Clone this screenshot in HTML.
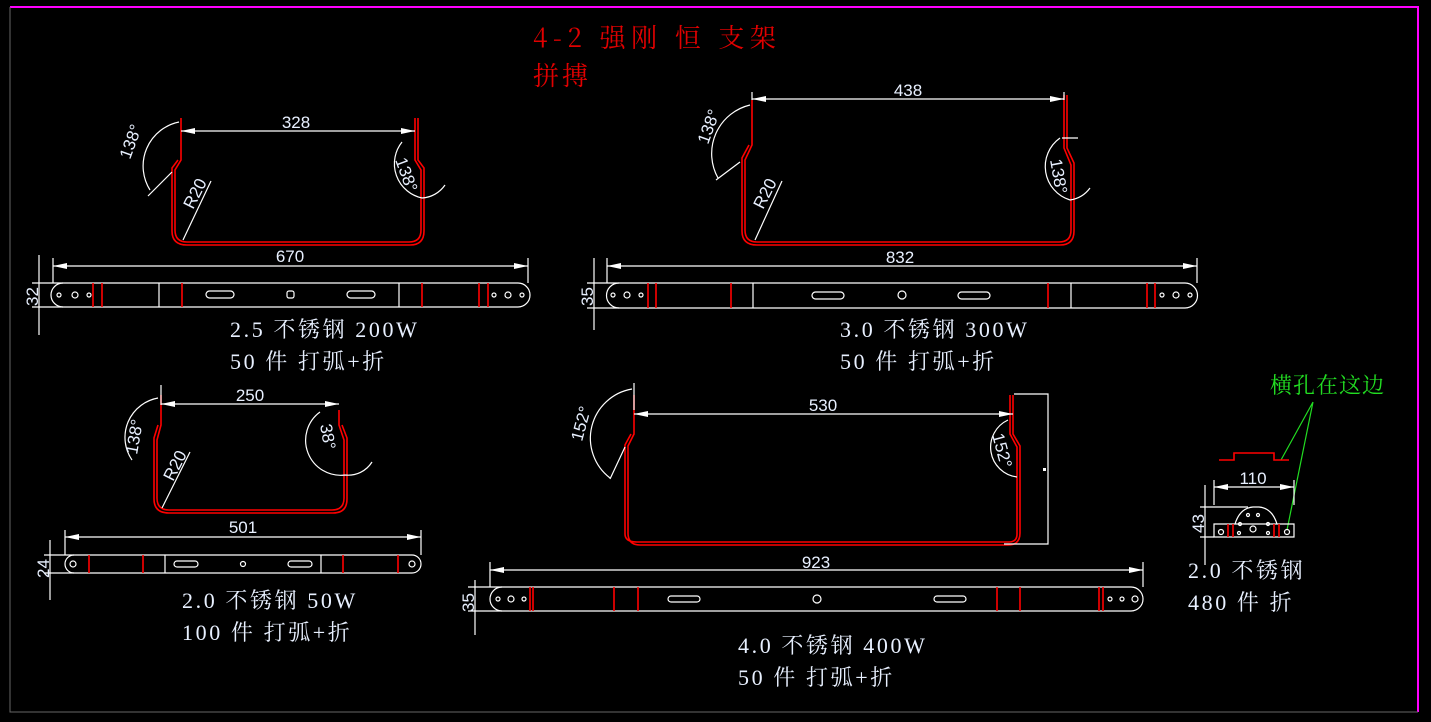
<!DOCTYPE html>
<html><head><meta charset="utf-8"><style>
html,body{margin:0;padding:0;background:#000;}
svg{display:block}
text{font-family:"Liberation Serif","Noto Serif CJK SC","Noto Sans CJK SC",serif;}
.t{fill:#e8f0ff;font-size:22px;letter-spacing:2.6px}
.d{fill:#e8f0ff;font-size:17px;font-family:"Liberation Sans Narrow","Liberation Sans",sans-serif}
.w{stroke:#fff;stroke-width:1.2;fill:none}
.r{stroke:#f00;stroke-width:1.6;fill:none}
</style></head><body>
<svg width="1431" height="722" viewBox="0 0 1431 722" xmlns="http://www.w3.org/2000/svg">
<rect width="1431" height="722" fill="#000"/>
<path d="M10 7 L1418 7 L1418 712" stroke="#ff00ff" stroke-width="2" fill="none"/>
<path d="M10 7 L10 712 L1418 712" stroke="#666" stroke-width="1" fill="none"/>

<text x="533" y="47" fill="#e00000" style="font-size:26px;letter-spacing:5.5px;font-family:'Noto Serif CJK SC',serif">4-2 强刚 恒 支架</text>
<text x="533" y="85" fill="#e00000" style="font-size:26px;letter-spacing:3px;font-family:'Noto Serif CJK SC',serif">拼搏</text>

<!-- Part 1 -->
<path class="r" d="M181 118 L181 160 L175 170 L175 230 Q175 242 187 242 L409 242 Q421 242 421 230 L421 170 L415 160 L415 118"/>
<path class="r" d="M178 160 L172 168 L172 231 Q172 245 187 245 L410 245 Q424 245 424 231 L424 168 L418 160 L418 118"/>
<path class="w" d="M181 131 L415 131"/>
<path d="M181 131 l14 -3 v6z M415 131 l-14 -3 v6z" fill="#fff"/>
<text class="d" x="296" y="128" text-anchor="middle">328</text>
<path class="w" d="M179 122 A45 45 0 0 0 150 190"/>
<path class="w" d="M172 172 L148 196"/>
<path class="w" d="M402 142 A35 35 0 0 0 422 198 M422 198 A30 30 0 0 0 445 185"/>
<text class="d" x="0" y="0" transform="translate(130,160) rotate(-70)">138°</text>
<text class="d" x="0" y="0" transform="translate(395,160) rotate(70)">138°</text>
<path class="w" d="M211 181 L183 240"/>
<text class="d" x="0" y="0" transform="translate(193,210) rotate(-63)">R20</text>
<path class="w" d="M53 266 L528 266 M53 258 L53 283 M528 258 L528 283"/>
<path d="M53 266 l14 -3 v6z M528 266 l-14 -3 v6z" fill="#fff"/>
<text class="d" x="290" y="262" text-anchor="middle">670</text>
<path class="w" d="M63 283 L518 283 A12 12 0 0 1 518 307 L63 307 A12 12 0 0 1 63 283z"/>
<path class="w" d="M32 283 L63 283 M32 307 L63 307 M39 255 L39 335"/>
<text class="d" x="0" y="0" transform="translate(38,306) rotate(-90)">32</text>
<g class="w"><circle cx="59" cy="295" r="2"/><circle cx="75" cy="295" r="3"/><circle cx="89" cy="295" r="2"/><circle cx="494" cy="295" r="2"/><circle cx="508" cy="295" r="3"/><circle cx="522" cy="295" r="2"/>
<rect x="206" y="291" width="28" height="7" rx="3.5"/><rect x="347" y="291" width="28" height="7" rx="3.5"/><rect x="287" y="291" width="7" height="7" rx="2"/></g>
<path class="r" d="M93 283v24M102 283v24M182 283v24M422 283v24M479 283v24M488 283v24"/>
<path class="w" d="M159 283v24M399 283v24"/>
<text class="t" x="230" y="337">2.5 不锈钢 200W</text>
<text class="t" x="230" y="369">50 件 打弧+折</text>

<!-- Part 2 -->
<path class="r" d="M752 100 L752 145 L745 160 L745 230 Q745 242 757 242 L1059 242 Q1071 242 1071 230 L1071 165 L1064 148 L1064 95"/>
<path class="r" d="M749 145 L742 158 L742 231 Q742 245 757 245 L1060 245 Q1074 245 1074 231 L1074 163 L1067 148 L1067 95"/>
<path class="w" d="M752 99 L1064 99 M752 92 L752 100 M1064 92 L1064 100"/>
<path d="M752 99 l14 -3 v6z M1064 99 l-14 -3 v6z" fill="#fff"/>
<text class="d" x="908" y="96" text-anchor="middle">438</text>
<path class="w" d="M750 105 A50 50 0 0 0 718 178 M740 162 L716 180"/>
<path class="w" d="M1060 138 A35 35 0 0 0 1070 200 M1070 200 A30 30 0 0 0 1090 188 M1062 138 L1078 138"/>
<text class="d" x="0" y="0" transform="translate(708,145) rotate(-70)">138°</text>
<text class="d" x="0" y="0" transform="translate(1050,160) rotate(80)">138°</text>
<path class="w" d="M782 181 L755 240"/>
<text class="d" x="0" y="0" transform="translate(763,210) rotate(-63)">R20</text>
<path class="w" d="M607 266 L1197 266 M607 258 L607 283 M1197 258 L1197 283"/>
<path d="M607 266 l14 -3 v6z M1197 266 l-14 -3 v6z" fill="#fff"/>
<text class="d" x="900" y="263" text-anchor="middle">832</text>
<path class="w" d="M619 283 L1185 283 A12.5 12.5 0 0 1 1185 308 L619 308 A12.5 12.5 0 0 1 619 283z"/>
<path class="w" d="M587 283 L619 283 M587 308 L619 308 M594 258 L594 330"/>
<text class="d" x="0" y="0" transform="translate(593,306) rotate(-90)">35</text>
<g class="w"><circle cx="613" cy="295" r="2"/><circle cx="627" cy="295" r="3"/><circle cx="641" cy="295" r="2"/><circle cx="1162" cy="295" r="2"/><circle cx="1176" cy="295" r="3"/><circle cx="1190" cy="295" r="2"/>
<rect x="812" y="292" width="32" height="7" rx="3.5"/><rect x="958" y="292" width="32" height="7" rx="3.5"/><circle cx="902" cy="295" r="4"/></g>
<path class="r" d="M648 283v25M656 283v25M731 283v25M1048 283v25M1147 283v25M1155 283v25"/>
<path class="w" d="M753 283v25M1071 283v25"/>
<text class="t" x="840" y="337">3.0 不锈钢 300W</text>
<text class="t" x="840" y="369">50 件 打弧+折</text>

<!-- Part 3 -->
<path class="r" d="M161 395 L161 425 L157 440 L157 498 Q157 510 169 510 L332 510 Q344 510 344 498 L344 440 L339 425 L339 410"/>
<path class="r" d="M158 425 L154 438 L154 499 Q154 513 169 513 L333 513 Q347 513 347 499 L347 438 L342 425"/>
<path class="w" d="M161 404 L339 404 M161 385 L161 405"/>
<path d="M161 404 l14 -3 v6z M339 404 l-14 -3 v6z" fill="#fff"/>
<text class="d" x="250" y="401" text-anchor="middle">250</text>
<path class="w" d="M158 398 A40 40 0 0 0 132 460 M320 412 A35 35 0 0 0 345 475 M345 475 A28 28 0 0 0 372 462"/>
<text class="d" x="0" y="0" transform="translate(137,455) rotate(-80)">138°</text>
<text class="d" x="0" y="0" transform="translate(320,425) rotate(80)">38°</text>
<path class="w" d="M190 452 L162 508"/>
<text class="d" x="0" y="0" transform="translate(173,482) rotate(-63)">R20</text>
<path class="w" d="M65 537 L421 537 M65 530 L65 555 M421 530 L421 555"/>
<path d="M65 537 l14 -3 v6z M421 537 l-14 -3 v6z" fill="#fff"/>
<text class="d" x="243" y="533" text-anchor="middle">501</text>
<path class="w" d="M74 555 L412 555 A9 9 0 0 1 412 573 L74 573 A9 9 0 0 1 74 555z"/>
<path class="w" d="M44 555 L74 555 M44 573 L74 573 M50 540 L50 600"/>
<text class="d" x="0" y="0" transform="translate(49,578) rotate(-90)">24</text>
<g class="w"><circle cx="73" cy="564" r="3"/><circle cx="412" cy="564" r="3"/><rect x="174" y="561" width="24" height="6" rx="3"/><rect x="288" y="561" width="24" height="6" rx="3"/><circle cx="243" cy="564" r="2.5"/></g>
<path class="r" d="M89 555v18M143 555v18M343 555v18M398 555v18"/>
<path class="w" d="M165 555v18M321 555v18"/>
<text class="t" x="182" y="608">2.0 不锈钢 50W</text>
<text class="t" x="182" y="640">100 件 打弧+折</text>

<!-- Part 4 -->
<path class="r" d="M634 395 L634 434 L628 446 L628 533 Q628 545 640 545 L1008 545 Q1020 545 1020 533 L1020 446 L1013 434 L1013 395"/>
<path class="r" d="M631 434 L625 445 L625 534 Q625 542 637 542 L1009 542 Q1017 542 1017 534 L1017 447 L1010 434 L1010 395"/>
<path class="w" d="M634 414 L1013 414 M634 383 L634 410"/>
<path d="M634 414 l14 -3 v6z M1013 414 l-14 -3 v6z" fill="#fff"/>
<text class="d" x="823" y="411" text-anchor="middle">530</text>
<path class="w" d="M1014 394 L1048 394 L1048 544 L1004 544"/>
<rect x="1043" y="468" width="3" height="3" fill="#fff"/>
<path class="w" d="M632 389 A50 50 0 0 0 610 478 M625 447 L610 479"/>
<path class="w" d="M1008 420 A30 30 0 0 0 1017 477"/>
<text class="d" x="0" y="0" transform="translate(582,442) rotate(-75)">152°</text>
<text class="d" x="0" y="0" transform="translate(992,435) rotate(75)">152°</text>
<path class="w" d="M490 570 L1143 570 M490 562 L490 587 M1143 562 L1143 587"/>
<path d="M490 570 l14 -3 v6z M1143 570 l-14 -3 v6z" fill="#fff"/>
<text class="d" x="816" y="568" text-anchor="middle">923</text>
<path class="w" d="M502 587 L1131 587 A12 12 0 0 1 1131 611 L502 611 A12 12 0 0 1 502 587z"/>
<path class="w" d="M468 587 L502 587 M468 611 L502 611 M475 580 L475 635"/>
<text class="d" x="0" y="0" transform="translate(474,612) rotate(-90)">35</text>
<g class="w"><circle cx="498" cy="599" r="2"/><circle cx="511" cy="599" r="3"/><circle cx="524" cy="599" r="2"/><circle cx="1122" cy="599" r="2"/><circle cx="1135" cy="599" r="3"/><circle cx="1110" cy="599" r="2"/>
<rect x="668" y="596" width="32" height="6" rx="3"/><rect x="934" y="596" width="32" height="6" rx="3"/><circle cx="817" cy="599" r="4"/></g>
<path class="r" d="M530 587v24M533 587v24M614 587v24M638 587v24M997 587v24M1020 587v24M1099 587v24M1103 587v24"/>
<text class="t" x="738" y="653">4.0 不锈钢 400W</text>
<text class="t" x="738" y="685">50 件 打弧+折</text>

<!-- Small part -->
<text x="1270" y="393" fill="#22dd22" style="font-size:22px;letter-spacing:1px;font-family:'Noto Serif CJK SC',serif">横孔在这边</text>
<path d="M1313 402 L1281 460 M1313 402 L1287 530" stroke="#22dd22" stroke-width="1.2" fill="none"/>
<path class="r" d="M1219 460 L1234 460 L1234 453 L1274 453 L1274 460 L1289 460"/>
<path class="w" d="M1214 487 L1294 487 M1214 480 L1214 505 M1294 480 L1294 505"/>
<path d="M1214 487 l14 -3 v6z M1294 487 l-14 -3 v6z" fill="#fff"/>
<text class="d" x="1253" y="484" text-anchor="middle">110</text>
<path class="w" d="M1214 537 L1294 537 L1294 524 L1214 524 Z M1235 524 Q1240 508 1253 507 L1259 507 Q1272 508 1277 524"/>
<path class="w" d="M1200 507 L1248 507 M1200 537 L1214 537 M1205 485 L1205 565"/>
<text class="d" x="0" y="0" transform="translate(1204,533) rotate(-90)">43</text>
<g class="w"><circle cx="1221" cy="532" r="2.5"/><circle cx="1287" cy="532" r="2.5"/><circle cx="1253" cy="529" r="3"/><circle cx="1240" cy="524" r="1.5"/><circle cx="1268" cy="524" r="1.5"/><circle cx="1248" cy="515" r="1.5"/><circle cx="1258" cy="515" r="1.5"/><circle cx="1239" cy="533" r="1.5"/><circle cx="1268" cy="533" r="1.5"/></g>
<path class="r" d="M1228 524v13M1233 524v13M1274 524v13M1279 524v13"/>
<text class="t" x="1188" y="578">2.0 不锈钢</text>
<text class="t" x="1188" y="610">480 件 折</text>
</svg>
</body></html>
